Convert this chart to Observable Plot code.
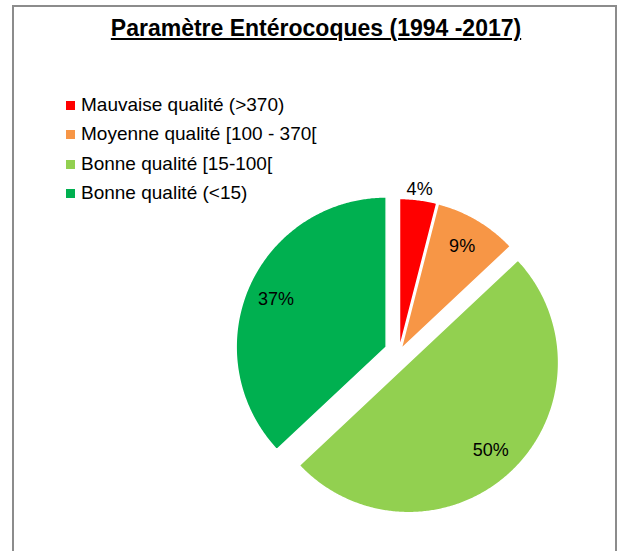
<!DOCTYPE html>
<html>
<head>
<meta charset="utf-8">
<script src="https://cdn.jsdelivr.net/npm/d3@7"></script>
<script src="https://cdn.jsdelivr.net/npm/@observablehq/plot@0.6"></script>
<style>
  body { margin: 0; background: #fff; font-family: Arial, "Liberation Sans", sans-serif; }
  #wrap { position: relative; width: 618px; height: 551px; overflow: hidden; background: #fff; }
  #frame { position: absolute; left: 12px; top: 5px; width: 605px; height: 700px; border: 2px solid #8c8c8c; box-sizing: border-box; }
  #chart { position: absolute; left: 0; top: 0; }
  #title { position: absolute; left: 0; width: 632px; top: 17px; text-align: center; font-weight: bold; font-size: 23px; line-height: 23px; text-decoration: underline; text-decoration-thickness: 2px; text-underline-offset: 2px; color: #000; }
  .row { position: absolute; left: 66px; height: 19px; font-size: 19px; line-height: 19px; color: #000; white-space: nowrap; }
  .sw { position: absolute; left: 0; top: 6px; width: 9px; height: 9px; }
  .lt { position: absolute; left: 15px; top: 0; }
</style>
</head>
<body>
<div id="wrap">
  <div id="frame"></div>
  <div id="chart"></div>
  <div id="title">Paramètre Entérocoques (1994 -2017)</div>
  <div id="legend"></div>
</div>
<script>
// ---- data ----
const categories = ["Mauvaise qualité (>370)", "Moyenne qualité [100 - 370[", "Bonne qualité [15-100[", "Bonne qualité (<15)"];
const values = [4, 9, 50, 37];
const labels = ["4%", "9%", "50%", "37%"];

// ---- styles / layout ----
const colors = ["#FF0000", "#F79646", "#92D050", "#00B050"];
const explodePx = [4, 4, 14, 14];
const W = 618, H = 551, CX = 398.5, CY = 352, R = 150;

// legend
const legend = document.getElementById("legend");
categories.forEach((c, i) => {
  const row = document.createElement("div");
  row.className = "row";
  row.style.top = (95 + i * 29.3) + "px";
  const sw = document.createElement("div");
  sw.className = "sw";
  sw.style.background = colors[i];
  const t = document.createElement("div");
  t.className = "lt";
  t.textContent = c;
  row.appendChild(sw); row.appendChild(t);
  legend.appendChild(row);
});

// pie geometry from the values
const arcs = d3.pie().sort(null).value(d => d)(values);
const pts = [];
const labelPts = [];
arcs.forEach((a, i) => {
  const mid = (a.startAngle + a.endAngle) / 2;
  const o = explodePx[i] / R;
  const ox = o * Math.sin(mid), oy = o * Math.cos(mid);
  const cat = categories[i];
  pts.push({cat, x: ox, y: oy});
  const n = Math.max(2, Math.ceil((a.endAngle - a.startAngle) / (Math.PI / 360)));
  for (let k = 0; k <= n; k++) {
    const t = a.startAngle + (a.endAngle - a.startAngle) * k / n;
    pts.push({cat, x: ox + Math.sin(t), y: oy + Math.cos(t)});
  }
  pts.push({cat, x: ox, y: oy});
  const frac = values[i] / d3.sum(values);
  const lr = frac < 0.05 ? 1.07 : 0.8;
  labelPts.push({text: labels[i], x: ox + lr * Math.sin(mid), y: oy + lr * Math.cos(mid)});
});

const plot = Plot.plot({
  width: W,
  height: H,
  margin: 0,
  style: {background: "transparent", fontFamily: "Arial, 'Liberation Sans', sans-serif"},
  x: {domain: [-1, 1], range: [CX - R, CX + R], axis: null},
  y: {domain: [-1, 1], range: [CY + R, CY - R], axis: null},
  color: {domain: categories, range: colors},
  marks: [
    Plot.line(pts, {x: "x", y: "y", z: "cat", fill: "cat", stroke: "white", strokeWidth: 1.5, curve: "linear"}),
    Plot.text(labelPts, {x: "x", y: "y", text: "text", fontSize: 18, fill: "#000"})
  ]
});
document.getElementById("chart").appendChild(plot);
</script>
</body>
</html>
